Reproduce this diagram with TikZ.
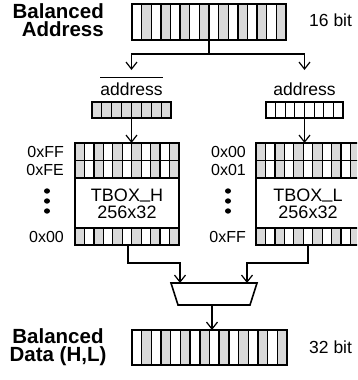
\documentclass[tikz,border=0pt]{standalone}
\usepackage{fontspec}
\setmainfont{Liberation Sans}
\usetikzlibrary{arrows.meta}
\definecolor{cellgray}{RGB}{217,217,217}
\newcommand\cellfill[6]{%
  \pgfmathsetmacro\cw{(#3-#1)/#5}%
  \foreach \i in {#6} {\fill[cellgray] ({#1+\i*\cw},#2) rectangle ({#1+(\i+1)*\cw},#4);}%
}
\newcommand\celldivs[6]{%
  \pgfmathsetmacro\cw{(#3-#1)/#5}%
  \pgfmathtruncatemacro\nm{#5-1}%
  \foreach \i in {1,...,\nm} {\draw[line width=#6] ({#1+\i*\cw},#2) -- ({#1+\i*\cw},#4);}%
}
\newcommand\us{\raisebox{0.14em}{\_}}
\begin{document}
\begin{tikzpicture}[x=1pt,y=-1pt,
  lbl/.style={font=\fontsize{17.5}{20}\selectfont, inner sep=0pt},
  hex/.style={font=\fontsize{16}{18}\selectfont, inner sep=0pt},
  big/.style={font=\bfseries\fontsize{20.5}{18.5}\selectfont, inner sep=0pt},
  conn/.style={line width=1.2pt},
  arr/.style={conn, -{Straight Barb[length=7pt,width=11pt,line width=1.2pt]}},
  frame/.style={draw, line width=1.9pt, inner sep=0pt, outer sep=0pt},
  sframe/.style={draw, line width=1.3pt, inner sep=0pt, outer sep=0pt},
  hidden/.style={inner sep=0pt, outer sep=0pt}]
\useasboundingbox (0,0) rectangle (357,380);
\begin{scope}
\clip (0,0) rectangle (357,380);

% ---- top register (16 bit)
\cellfill{132}{4}{286}{40}{16}{1,3,...,15}
\celldivs{132}{4}{286}{40}{16}{1.4pt}
\node[frame, minimum width=154pt, minimum height=36pt] (regA) at (209,22) {};
\node[big, anchor=east, align=right] (lblA) at (104,20) {Balanced\\Address};
\node[lbl, anchor=west] (bits16) at (309,20) {16 bit};

% ---- small registers
\cellfill{92}{102}{171}{118}{8}{0,...,7}
\celldivs{92}{102}{171}{118}{8}{1pt}
\node[sframe, minimum width=79pt, minimum height=16pt] (regH) at (131.5,110) {};
\celldivs{266}{102}{343}{118}{8}{1pt}
\node[sframe, minimum width=77pt, minimum height=16pt] (regL) at (304.5,110) {};

\node[lbl] (addrL) at (131.5,89) {address};
\draw[conn] ([yshift=5pt]addrL.north west) -- ([yshift=5pt]addrL.north east);
\node[lbl] (addrR) at (304.5,89) {address};

% ---- TBOX_H
\cellfill{75}{143}{179}{178}{11}{0,2,...,10}
\cellfill{75}{228}{179}{245}{11}{0,2,...,10}
\celldivs{75}{143}{179}{178}{11}{1.3pt}
\celldivs{75}{228}{179}{245}{11}{1.3pt}
\draw[line width=1.4pt] (75,160.5) -- (179,160.5);
\draw[line width=1.9pt] (75,178) -- (179,178) (75,228) -- (179,228);
\node[frame, minimum width=104pt, minimum height=102pt] (tboxH) at (127,194) {};
\node[lbl, align=center, font=\fontsize{18}{17.5}\selectfont] (txtH) at (127,204) {TBOX\us H\\256x32};

% ---- TBOX_L
\cellfill{256}{143}{360}{178}{11}{0,2,...,10}
\cellfill{256}{228}{360}{245}{11}{0,2,...,10}
\celldivs{256}{143}{360}{178}{11}{1.3pt}
\celldivs{256}{228}{360}{245}{11}{1.3pt}
\draw[line width=1.4pt] (256,160.5) -- (360,160.5);
\draw[line width=1.9pt] (256,178) -- (360,178) (256,228) -- (360,228);
\node[frame, minimum width=104pt, minimum height=102pt] (tboxL) at (308,194) {};
\node[lbl, align=center, font=\fontsize{18}{17.5}\selectfont] (txtL) at (308,204) {TBOX\us L\\256x32};

% ---- address labels
\node[hex, anchor=east] (hFF) at (64,152) {0xFF};
\node[hex, anchor=east] (hFE) at (64,170) {0xFE};
\node[hex, anchor=east] (h00) at (64,237) {0x00};
\node[hex, anchor=east] (l00) at (246,152) {0x00};
\node[hex, anchor=east] (l01) at (246,170) {0x01};
\node[hex, anchor=east] (lFF) at (246,237) {0xFF};
\foreach \yy in {191,201,211} {
  \fill (47,\yy) ellipse (3pt and 2.7pt);
  \fill (228,\yy) ellipse (3pt and 2.7pt);
}

% ---- mux
\node[hidden, minimum width=86pt, minimum height=22pt] (mux) at (214,294) {};
\draw[line width=1.6pt] (mux.north west) -- (mux.north east) -- ([xshift=-7pt]mux.south east) -- ([xshift=7pt]mux.south west) -- cycle;

% ---- bottom register (32 bit)
\cellfill{132}{330}{287}{365}{16}{1,3,...,15}
\celldivs{132}{330}{287}{365}{16}{1.4pt}
\node[frame, minimum width=155pt, minimum height=35pt] (regD) at (209.5,347.5) {};
\node[big, align=center] (lblD) at (58,347) {Balanced\\Data (H,L)};
\node[lbl, anchor=west] (bits32) at (309,347) {32 bit};

% ---- connectors
\coordinate (aL) at (131.5,70);
\coordinate (aR) at (304.5,70);
\draw[arr] (regA.south) -- ++(0,14) -| (aL);
\draw[arr] (regA.south) -- ++(0,14) -| (aR);
\draw[arr] (regH.south) -- (regH.south |- tboxH.north);
\draw[arr] (regL.south) -- (regL.south |- tboxL.north);
\coordinate (inH) at ([xshift=-34pt]mux.north);
\coordinate (inL) at ([xshift=33pt]mux.north);
\draw[arr] ([xshift=1pt]tboxH.south) |- ([yshift=20pt]inH) -- (inH);
\draw[arr] (tboxL.south) |- ([yshift=20pt]inL) -- (inL);
\draw[arr] ([xshift=-2pt]mux.south) -- ([xshift=-2pt]mux.south |- regD.north);
\end{scope}
\end{tikzpicture}
\end{document}
